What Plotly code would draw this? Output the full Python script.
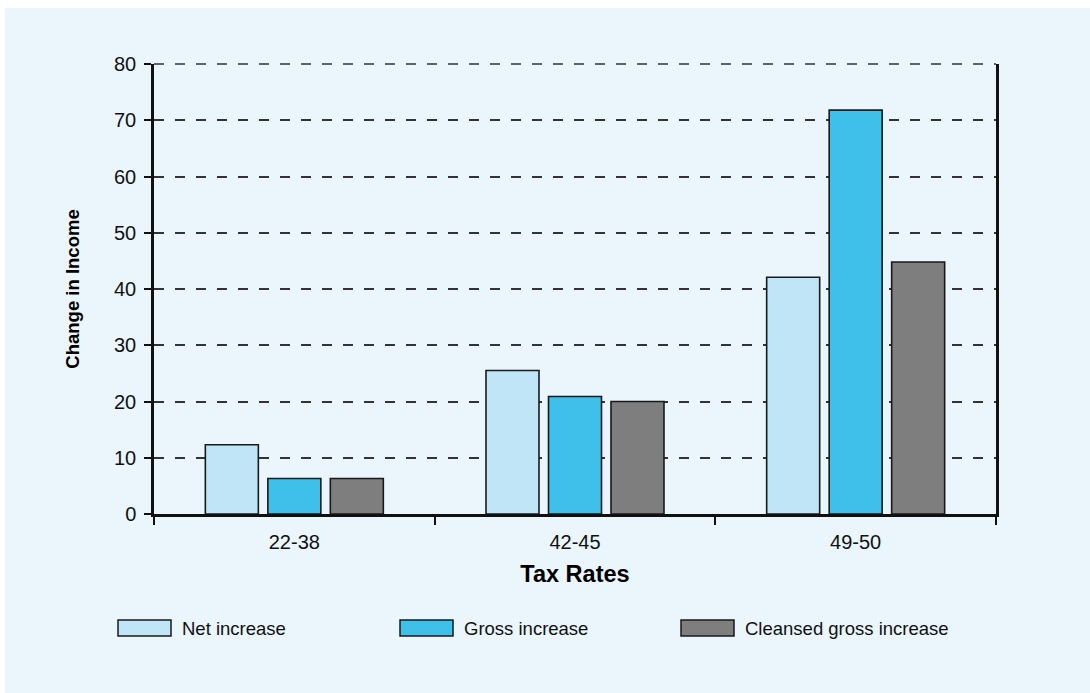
import plotly.graph_objects as go

# ---- data ----
categories = ["22-38", "42-45", "49-50"]
series_names = ["Net increase", "Gross increase", "Cleansed gross increase"]
net_increase = [12.3, 25.5, 42.1]
gross_increase = [6.3, 20.9, 71.8]
cleansed_gross_increase = [6.3, 20.0, 44.8]
y_ticks = [0, 10, 20, 30, 40, 50, 60, 70, 80]

series_values = [net_increase, gross_increase, cleansed_gross_increase]
colors = ["#BFE5F6", "#3FC0EA", "#7E7E7E"]

W, H = 1090, 693
L, R, T, B = 154, 94, 64, 179
PW, PH = W - L - R, H - T - B

def px_x(px):
    return (px - L) / PW

def px_y(py):
    return (H - B - py) / PH

BG = "#EAF5FC"
REG = "Liberation Sans, Arial, sans-serif"
GRID = "#333333"

fig = go.Figure()
for name, vals, col in zip(series_names, series_values, colors):
    fig.add_trace(go.Bar(
        x=categories, y=vals, name=name,
        marker=dict(color=col, line=dict(color="#1A1A1A", width=1.6)),
        showlegend=False,
    ))

shapes = [
    dict(type="rect", xref="paper", yref="paper",
         x0=px_x(5), x1=px_x(W + 2), y0=px_y(H + 2), y1=px_y(8),
         fillcolor=BG, line=dict(width=0), layer="below"),
    # top gridline along the upper range edge (paper y=1 == y max)
    dict(type="line", xref="paper", yref="paper", x0=0, x1=1, y0=1, y1=1,
         line=dict(color=GRID, width=1.5, dash="10px,11px"), layer="above"),
]
annotations = []
legend_x = [118, 400, 681]
for name, col, lx in zip(series_names, colors, legend_x):
    shapes.append(dict(type="rect", xref="paper", yref="paper",
                       x0=px_x(lx), x1=px_x(lx + 53), y0=px_y(636), y1=px_y(620),
                       fillcolor=col, line=dict(color="#1A1A1A", width=1.5)))
    annotations.append(dict(text=name, xref="paper", yref="paper",
                            x=px_x(lx + 62), y=px_y(628), xanchor="left", yanchor="middle",
                            showarrow=False, font=dict(family=REG, size=18.5, color="#111111")))

fig.update_layout(
    width=W, height=H,
    margin=dict(l=L, r=R, t=T, b=B, pad=0),
    paper_bgcolor="white",
    plot_bgcolor=BG,
    barmode="group",
    bargap=0.332,
    bargroupgap=0.152,
    shapes=shapes,
    annotations=annotations,
    font=dict(family=REG, size=20, color="#111111"),
    xaxis=dict(
        type="category",
        showline=True, linecolor="#111111", linewidth=2.5,
        ticks="outside", tickson="boundaries", ticklen=8, tickwidth=2, tickcolor="#111111",
        ticklabelstandoff=8,
        showgrid=False, zeroline=False,
        tickfont=dict(family=REG, size=20, color="#111111"),
        title=dict(text="<b>Tax Rates</b>", font=dict(family=REG, size=23.5, color="#000000"), standoff=14),
    ),
    yaxis=dict(
        range=[0, 80], tickvals=y_ticks,
        showline=True, linecolor="#111111", linewidth=2.5, mirror=True,
        ticks="outside", ticklen=7, tickwidth=2, tickcolor="#111111",
        ticklabelstandoff=4,
        showgrid=True, gridcolor=GRID, gridwidth=1.5, griddash="10px,11px",
        zeroline=False,
        tickfont=dict(family=REG, size=20, color="#111111"),
        title=dict(text="<b>Change in Income</b>", font=dict(family=REG, size=18.5, color="#000000"), standoff=30),
    ),
)

fig.write_html("out.html")
